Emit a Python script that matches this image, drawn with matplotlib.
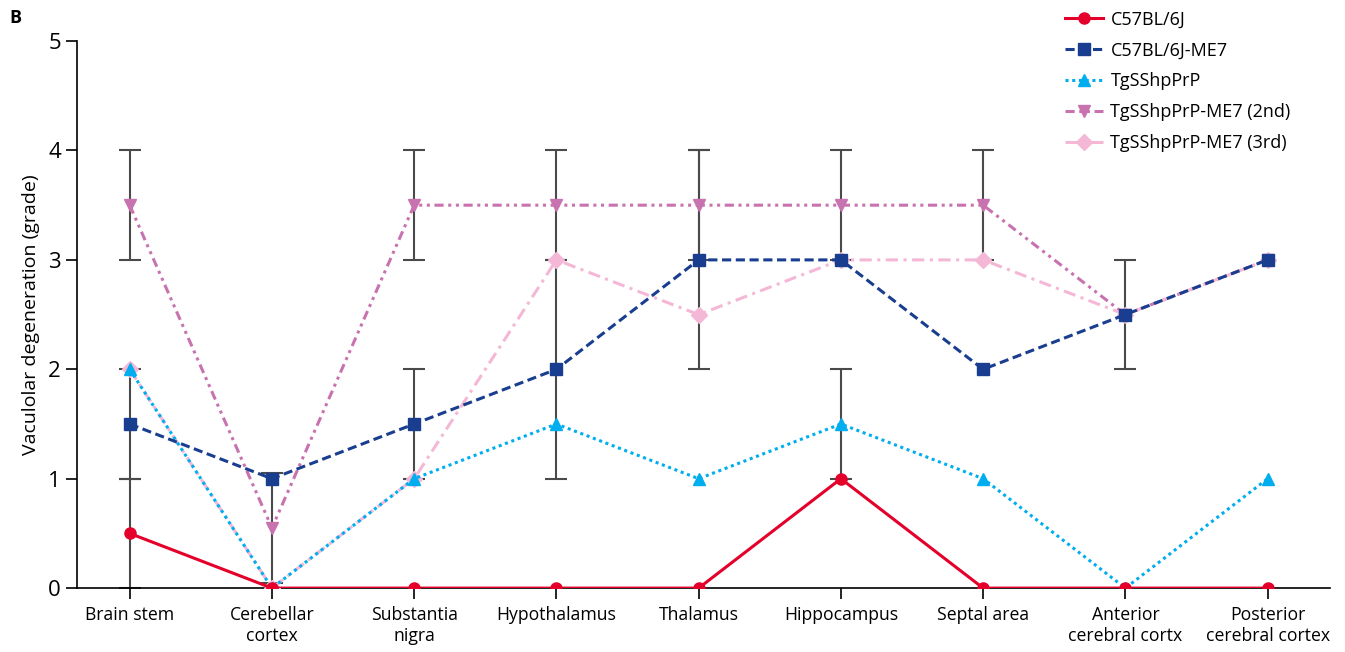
import numpy as np
import matplotlib
matplotlib.use('Agg')
import matplotlib.pyplot as plt

plt.rcParams['font.family'] = ['Open Sans', 'DejaVu Sans']

regions = ['Brain stem', 'Cerebellar\ncortex', 'Substantia\nnigra', 'Hypothalamus', 'Thalamus',
           'Hippocampus', 'Septal area', 'Anterior\ncerebral cortx', 'Posterior\ncerebral cortex']

c57 = [0.5, 0, 0, 0, 0, 1, 0, 0, 0]
c57_err = [0.5, 0, 0, 0, 0, 0, 0, 0, 0]
c57me7 = [1.5, 1, 1.5, 2, 3, 3, 2, 2.5, 3]
c57me7_err = [0.5, 0, 0.5, 1, 1, 0, 0, 0.5, 0]
tg = [2, 0, 1, 1.5, 1, 1.5, 1, 0, 1]
tg_err = [0, 0, 0, 0, 0, 0.5, 0, 0, 0]
tg2 = [3.5, 0.55, 3.5, 3.5, 3.5, 3.5, 3.5, 2.5, 3]
tg2_err = [0.5, 0.5, 0.5, 0.5, 0.5, 0.5, 0.5, 0, 0]
tg3 = [2, 0, 1, 3, 2.5, 3, 3, 2.5, 3]

x = np.arange(len(regions))

fig = plt.figure(figsize=(13.45, 6.52), dpi=100)
ax = fig.add_axes([0.0573, 0.098, 0.9317, 0.839])

# error bars first, drawn under the lines
ebkw = dict(fmt='none', ecolor='#4a4a4a', elinewidth=1.5, capsize=8, capthick=1.5, zorder=1)
for vals, errs in [(c57, c57_err), (c57me7, c57me7_err), (tg, tg_err), (tg2, tg2_err)]:
    e = np.array(errs)
    m = e > 0
    ax.errorbar(x[m], np.array(vals)[m], yerr=e[m], **ebkw)

ax.plot(x, c57, color='#e4002b', lw=2.2, ls='-', marker='o', ms=8, label='C57BL/6J', zorder=6)
ax.plot(x, c57me7, color='#1a3e8f', lw=2.2, ls=(0, (3, 1.5)), marker='s', ms=8, label='C57BL/6J-ME7', zorder=5)
ax.plot(x, tg, color='#00aeef', lw=2.2, ls=(0, (1, 1.2)), marker='^', ms=9, label='TgSShpPrP', zorder=4)
ax.plot(x, tg2, color='#c873b0', lw=2.2, ls=(0, (3, 1.5, 1, 1.5, 1, 1.5)), marker='v', ms=9,
        label='TgSShpPrP-ME7 (2nd)', zorder=3)
ax.plot(x, tg3, color='#f4b8d6', lw=2.2, ls=(0, (4, 1.8, 1, 1.8)), marker='D', ms=8,
        label='TgSShpPrP-ME7 (3rd)', zorder=3)

ax.set_xlim(-0.37, 8.44)
ax.set_ylim(0, 5)
ax.set_yticks([0, 1, 2, 3, 4, 5])
ax.set_xticks(x)
ax.set_xticklabels(regions, fontsize=12.7)
ax.tick_params(axis='y', labelsize=16, length=8, width=1.2)
ax.tick_params(axis='x', length=8, width=1.2, pad=5)
for s in ['top', 'right']:
    ax.spines[s].set_visible(False)
for s in ['left', 'bottom']:
    ax.spines[s].set_linewidth(1.2)
ax.set_ylabel('Vaculolar degeneration (grade)', fontsize=14, labelpad=6)

fig.text(0.007, 0.965, 'B', fontsize=13, fontweight='bold')

ax.legend(loc='upper left', bbox_to_anchor=(0.7756, 1.086), frameon=False, fontsize=13,
          handlelength=2.1, labelspacing=0.72, handletextpad=0.4)

fig.savefig('out.png', dpi=100)
